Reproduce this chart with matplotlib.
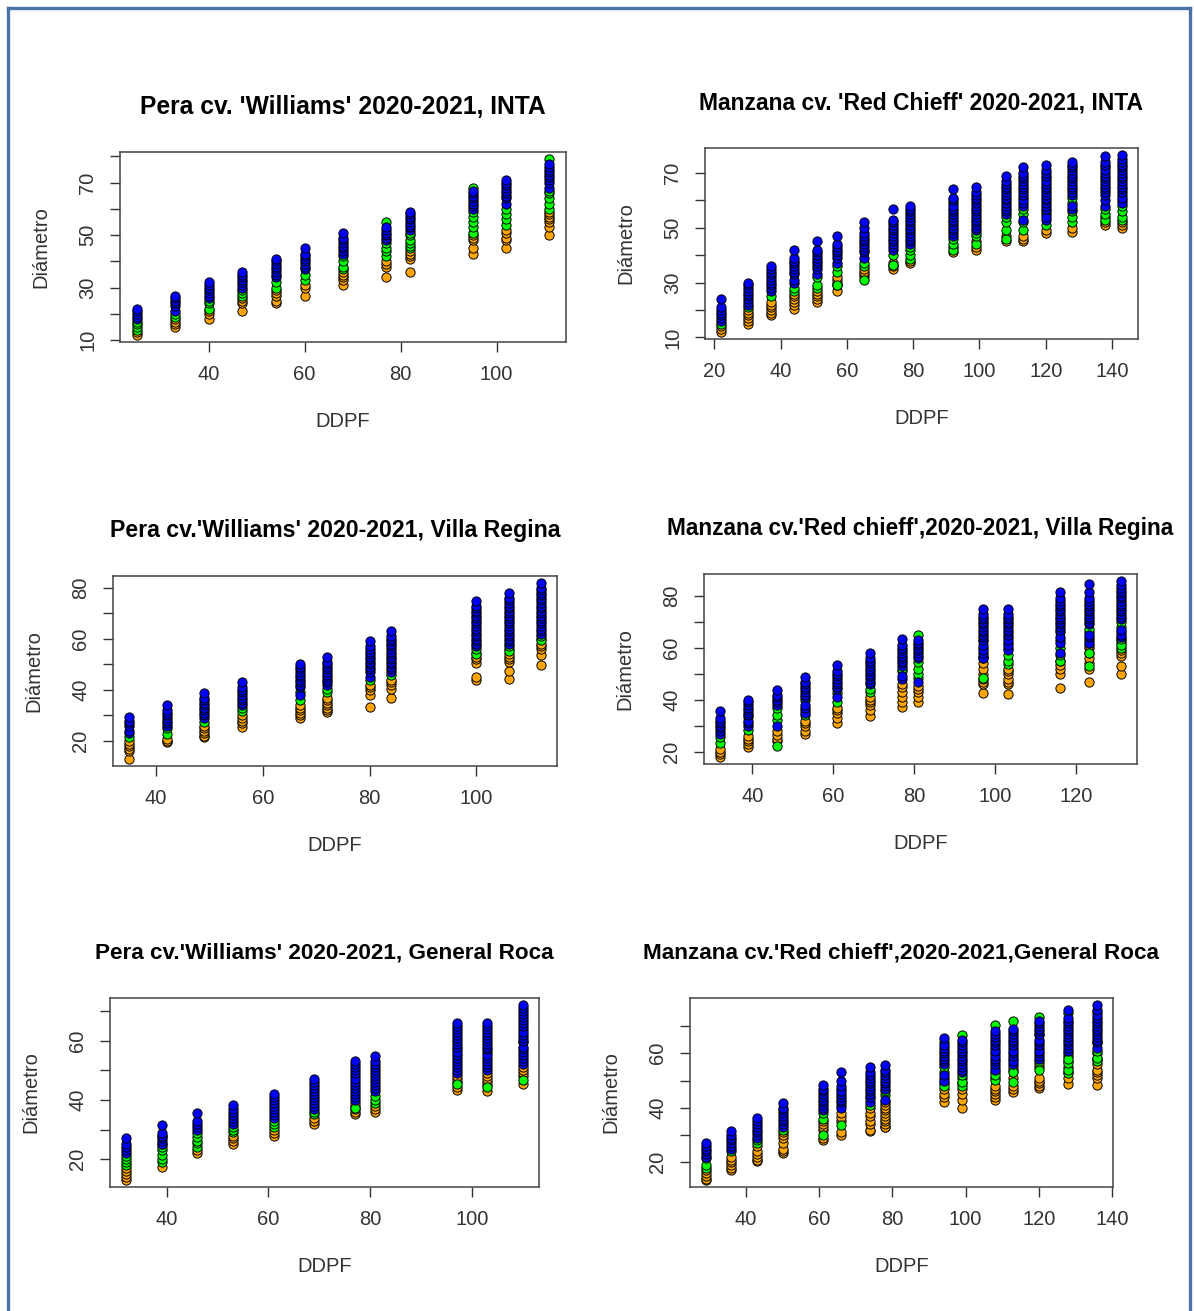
"""Six R-style scatter panels: fruit diameter vs DDPF for pear and apple, three sites."""
import matplotlib
matplotlib.use("Agg")
import matplotlib.pyplot as plt
from matplotlib.lines import Line2D

plt.rcParams['font.family'] = ['Liberation Sans', 'DejaVu Sans']

W, H = 1194, 1311
ORANGE, GREEN, BLUE = "#FFA500", "#00FF00", "#0000FF"

# ---- Pera cv. 'Williams', INTA
P1_DDPF = [25, 33, 40, 47, 54, 60, 68, 77, 82, 95, 102, 111]
P1_ORANGE = [[12, 13], [15, 16, 17, 18], [18, 20, 21], [21, 24, 25, 26],
             [24, 25, 27, 28, 29], [27, 30, 31], [31, 33, 34, 35, 36],
             [34, 38, 39, 40], [36, 41, 42, 43, 44], [43, 45, 48, 49, 50],
             [45, 48, 49, 51, 52], [50, 53, 55, 56, 57, 58, 59]]
P1_GREEN = [[14, 15, 16, 17], [19, 20], [22, 24, 25], [27, 28, 29], [30, 32],
            [33, 35], [37, 38, 40, 42], [42, 44, 45, 47, 55],
            [45, 46, 47, 48, 50, 51], [51, 53, 55, 57, 59, 68],
            [54, 56, 58, 60], [60, 62, 64, 66, 67, 79]]
P1_BLUE = [[18, 19, 20, 21, 22], [21, 23, 24, 25, 26, 27],
           [26, 27, 28, 29, 30, 31, 32], [30, 31, 32, 33, 34, 35, 36],
           [34, 35, 36, 37, 38, 39, 40, 41], [37, 38, 39, 40, 41, 42, 43, 45],
           [43, 44, 45, 46, 47, 48, 49, 51], [48, 49, 50, 51, 52, 53],
           [52, 53, 54, 55, 56, 57, 58, 59], [60, 61, 62, 63, 64, 65, 66, 67],
           [62, 64, 65, 66, 67, 68, 69, 70, 71],
           [68, 70, 71, 72, 73, 74, 75, 76, 77]]

# ---- Manzana cv. 'Red Chieff', INTA
P2_DDPF = [22, 30, 37, 44, 51, 57, 65, 74, 79, 92, 99, 108, 113, 120, 128, 138, 143]
P2_ORANGE = [[12, 13, 14], [15, 16, 17, 18, 19, 20], [18, 19, 20, 21, 22, 23],
             [20.5, 22, 23, 24, 25, 26], [23, 24, 25, 26, 27], [27, 29, 30, 31, 32],
             [32, 33, 34, 35], [35, 36, 37], [37, 38], [41, 43], [42, 43, 45],
             [45, 47], [45, 46, 47], [48, 49], [48.5, 50], [51, 52, 54], [50, 51, 52]]
P2_GREEN = [[15], [21], [25], [27, 28], [28, 29, 32], [29, 34, 36], [31, 36, 37],
            [36.5, 40], [38.5, 40, 42, 43], [42, 44, 46, 59], [44, 47, 48],
            [46, 49, 52, 54], [49, 52, 55, 57, 61], [51, 55, 56, 68],
            [52, 54, 56, 59, 61], [53, 55, 57, 72], [53, 54, 56, 58, 60, 62]]
P2_BLUE = [[16, 17, 18, 19, 20, 21, 24],
           [22, 23, 24, 25, 26, 27, 28, 29, 30],
           [27, 28, 29, 30, 31, 32, 33, 34, 35, 36],
           [30, 31, 33, 34, 35, 36, 37, 38, 39, 42],
           [33, 35, 36, 37, 38, 39, 40, 41, 42, 45],
           [37, 39, 40, 41, 42, 43, 44, 47],
           [39, 41, 42, 43, 44, 45, 46, 47, 48, 50, 52],
           [42, 43, 44, 45, 46, 47, 48, 49, 50, 51, 52, 53, 57],
           [44, 45, 46, 47, 48, 49, 50, 51, 52, 53, 54, 55, 56, 57, 58],
           [47, 48, 49, 50, 51, 52, 53, 54, 55, 56, 57, 58, 60, 61, 64],
           [49, 50, 51, 52, 53, 54, 55, 56, 57, 58, 59, 60, 61, 62, 63, 65],
           [55, 56, 57, 58, 59, 60, 61, 62, 63, 64, 65, 66, 67, 69],
           [53, 58, 59, 60, 62, 63, 64, 65, 66, 67, 68, 69, 70, 72],
           [53, 54, 57, 58, 59, 60, 61, 62, 63, 64, 65, 66, 67, 69, 70, 71, 73],
           [57, 58, 62, 63, 64, 65, 66, 67, 68, 69, 70, 71, 72, 73, 74],
           [58, 60, 62, 63, 64, 65, 66, 67, 68, 69, 70, 71, 73, 74, 76],
           [59, 61, 63, 64, 65, 66, 67, 68, 69, 70, 71, 72, 73, 74, 75, 76.5]]

# ---- Pera cv. 'Williams', Villa Regina
P3_DDPF = [35, 42, 49, 56, 67, 72, 80, 84, 100, 106, 112]
P3_ORANGE = [[13, 16, 17, 18, 19, 20], [19.5, 20, 21], [21.5, 22, 23, 24, 25, 26],
             [25.6, 27, 28, 29, 30], [29, 30, 31, 32, 33, 34],
             [31.5, 32, 33, 34, 35, 36, 37], [33.5, 38, 40, 41, 42],
             [36.7, 40.5, 42, 43, 44], [43.7, 45, 50.5, 52, 53, 54.5],
             [44.2, 47.5, 51, 52, 53, 54, 56], [49.9, 53.8, 56, 57, 58, 60]]
P3_GREEN = [[21.5], [22.7, 25], [27.3], [31.9, 33], [36, 39.3], [39.3, 40.5],
            [43.7], [45.9], [54, 56], [55.4, 57], [59.6, 61]]
P3_BLUE = [[23, 24, 26, 27, 28, 29.5],
           [26, 27, 28, 29, 30, 31, 32, 34],
           [29, 30, 31, 32, 33, 34, 35, 36, 37, 38.7],
           [34, 35, 36, 37, 38, 39, 40, 41, 43],
           [38, 41, 42, 43, 44, 45, 46, 47, 48, 49, 50],
           [42, 43, 44, 45, 46, 47, 48, 49, 50, 51, 53],
           [45, 47, 48, 49, 50, 51, 52, 53, 54, 55, 56, 57, 59],
           [47, 48, 49, 50, 51, 52, 53, 54, 55, 56, 57, 58, 59, 60, 61, 63],
           [57, 58, 59, 60, 61, 62, 63, 64, 65, 66, 67, 68, 69, 70, 71, 72, 73, 74.6],
           [58, 59, 60, 61, 62, 63, 64, 65, 66, 67, 68, 69, 70, 71, 72, 73, 74, 75, 76, 78],
           [62, 63, 64, 65, 66, 67, 68, 69, 70, 71, 72, 73, 74, 75, 76, 77, 78, 79, 80, 81.8]]

# ---- Manzana cv. 'Red chieff', Villa Regina
P4_DDPF = [32, 39, 46, 53, 61, 69, 77, 81, 97, 103, 116, 123, 131]
P4_ORANGE = [[18, 19, 20, 21], [22, 23, 24, 25, 26], [24, 25, 26.5, 28],
             [27, 28, 30, 31, 32], [31, 33, 35, 36, 37], [33.6, 36, 38, 39, 40, 41],
             [37.4, 39, 41, 43, 45, 46], [39.3, 41, 43, 44, 45.5],
             [42.5, 46, 47, 48, 50, 52, 54], [42.3, 46, 47, 48, 50, 51, 52],
             [44.4, 50, 52, 53.5, 55], [46.7, 52, 54, 56, 58, 60, 61],
             [50.1, 53, 57, 58, 59, 62, 63]]
P4_GREEN = [[23.2, 25.6], [28.3, 33.2], [22.2, 32.4, 34, 36.8], [34, 36, 40],
            [39, 42.5], [43, 44], [51, 52], [48.2, 50.1, 52, 54.6, 65],
            [48.2, 55.9, 57, 60, 62.5], [53.6, 55, 57.1, 60, 62, 64],
            [55, 57.4, 60, 63, 66], [53, 58.1, 63, 66, 67.3],
            [60, 61, 63.5, 66, 68, 70]]
P4_BLUE = [[27, 28, 29, 30, 31, 32, 33, 35.5],
           [30, 31, 32, 34, 35, 36, 37, 38, 39, 40],
           [30, 38, 39, 40, 41, 42, 43.8],
           [35, 37, 38, 41, 42, 43, 44, 45, 46, 47, 48.6],
           [41, 44, 45, 46, 47, 48, 49, 50, 51, 53.3],
           [46, 47, 48, 49, 50, 51, 52, 53, 54, 55, 56, 58],
           [48, 49, 53, 54, 55, 56, 57, 58, 59, 60, 61, 63.5],
           [47, 56, 57, 58, 59, 60, 61, 62, 63],
           [56, 58, 59, 61, 63, 64, 65, 66, 67, 68, 69, 70, 71, 72, 73, 75],
           [59, 61, 63, 65, 66, 67, 68, 69, 70, 71, 72, 73, 75],
           [58, 62, 64, 67, 68, 69, 70, 71, 72, 73, 74, 75, 76, 77, 78, 79, 81.5],
           [62, 64, 65, 69, 70, 71, 72, 73, 74, 75, 76, 77, 78, 79, 81.5, 84.4],
           [64, 65, 67, 71, 72, 73, 74, 75, 76, 77, 78, 79, 80, 81, 82, 83, 84, 85.7]]

# ---- Pera cv. 'Williams', General Roca
P5_DDPF = [32, 39, 46, 53, 61, 69, 77, 81, 97, 103, 110]
P5_ORANGE = [[13, 14, 15, 16, 17], [17.5], [22, 23], [25, 26, 27, 28], [28, 29, 30],
             [32, 33, 34], [35.2, 36, 37, 38, 39], [36, 37, 38],
             [43.5, 44.5, 46, 47, 48], [43, 45, 46, 47, 48, 49], [45.5, 48, 49, 50, 51]]
P5_GREEN = [[18, 19, 20, 21], [19, 20, 21.5, 23, 24, 25, 28], [24, 25.4, 26, 27.6, 29],
            [29.3, 30, 31], [31, 32, 33], [35.4, 36], [37.4, 47.9], [38.8, 40, 41.2],
            [45.2, 57.2], [44.3, 56], [46.6, 59.4, 64]]
P5_BLUE = [[22, 23, 24, 25, 27], [25, 26, 27, 28, 29, 31.7], [30, 31, 32, 33, 35.6],
           [32, 33, 34, 35, 36, 37, 38.4], [34, 35, 36, 37, 38, 39, 40, 41, 42],
           [37, 38, 39, 40, 41, 42, 43, 44, 45, 46, 47],
           [40, 41, 42, 43, 44, 45, 46, 47, 49, 50, 51, 52, 53],
           [43, 44, 45, 46, 47, 48, 49, 50, 51, 52, 53, 54.7],
           [49, 50, 51, 52, 53, 54, 55, 56, 58, 59, 60, 61, 62, 63, 64, 65, 66],
           [50, 51, 52, 53, 54, 55, 57, 58, 59, 60, 61, 62, 63, 64, 65, 66],
           [52, 53, 54, 55, 56, 57, 58, 60, 61, 62, 63, 65, 66, 67, 68, 69, 70, 71, 72]]

# ---- Manzana cv. 'Red chieff', General Roca
P6_DDPF = [29, 36, 43, 50, 61, 66, 74, 78, 94, 99, 108, 113, 120, 128, 136]
P6_ORANGE = [[13.5, 14, 15, 16, 17], [17.3, 18, 19, 20, 21, 22],
             [20.4, 21, 22, 23, 24, 26], [23.4, 24, 25, 27, 29, 30, 31],
             [28.3, 29, 32, 33, 34, 35], [30, 31, 35, 36.5, 38],
             [31.3, 32, 34, 35, 37, 38, 40],
             [32.8, 33, 34, 35, 36, 37, 38, 39, 40, 41, 42],
             [42.1, 44, 45, 47, 49, 51], [39.9, 43, 45, 47, 49, 51],
             [42.9, 44, 45, 46, 47, 48, 51, 53], [45.7, 47, 48, 51, 54, 55],
             [47.2, 48, 49, 50, 51, 55, 56], [48.7, 51, 53, 55, 57, 59, 60],
             [48.2, 51, 52, 53, 54, 56, 58, 60]]
P6_GREEN = [[18, 19.1, 21.6], [24.3], [27, 28.3], [32], [30.1, 36, 38],
            [33.8, 41.1, 47], [41, 43.5], [44.8, 46], [48, 53.3, 55, 64.3],
            [48, 49.6, 52, 66.7], [50.2, 52, 55, 60, 62, 70.4],
            [49.6, 53.3, 58, 62, 71.8], [53.9, 57, 62, 66.7, 73.4],
            [52.7, 54, 56.3, 58, 74.6], [57, 58.2, 61, 63.7, 75.2]]
P6_BLUE = [[22, 23, 24, 25, 26, 27], [25, 26, 27, 28, 29, 30, 31.6],
           [29, 30, 31, 32, 33, 34, 35, 36.2],
           [33, 34, 35, 36, 37, 38, 39, 40, 41.7],
           [39, 40, 41, 42, 43, 44, 45, 46, 47, 48.4],
           [40, 42, 43, 44, 45, 46, 48, 49.9, 53],
           [42, 44, 45, 46, 47, 48, 49, 50, 51, 52, 53, 54.8],
           [43, 47, 48, 49, 50, 51, 52, 53, 54, 55.7],
           [50, 52, 56, 57, 58, 59, 60, 61, 62, 63, 65.7],
           [53, 54, 55, 56, 57, 58, 59, 60, 61, 62, 63, 64, 65],
           [54, 56, 57, 58, 59, 61, 63, 64, 65, 66, 67, 68],
           [56, 57, 59, 60, 61, 63, 64, 65, 66, 67, 68, 69],
           [58, 59, 60, 61, 63, 64, 65, 67, 68, 69, 70, 71, 72],
           [61, 62, 63, 64, 65, 66, 67, 68, 69, 70, 71, 72, 73, 75.9],
           [62, 64, 65, 66, 67, 68, 69, 70, 71, 72, 73, 74, 76, 77.7]]

TITLES = ["Pera cv. 'Williams' 2020-2021, INTA",
          "Manzana cv. 'Red Chieff' 2020-2021, INTA",
          "Pera cv.'Williams' 2020-2021, Villa Regina",
          "Manzana cv.'Red chieff',2020-2021, Villa Regina",
          "Pera cv.'Williams' 2020-2021, General Roca",
          "Manzana cv.'Red chieff',2020-2021,General Roca"]
XTICKS = [[40, 60, 80, 100], [20, 40, 60, 80, 100, 120, 140], [40, 60, 80, 100],
          [40, 60, 80, 100, 120], [40, 60, 80, 100], [40, 60, 80, 100, 120, 140]]
YTICKS = [list(range(10, 81, 10)), list(range(10, 71, 10)), list(range(20, 81, 10)),
          list(range(20, 81, 10)), list(range(20, 71, 10)), list(range(20, 71, 10))]
YLABELED = [[10, 30, 50, 70], [10, 30, 50, 70], [20, 40, 60, 80],
            [20, 40, 60, 80], [20, 40, 60], [20, 40, 60]]

DATA = [(P1_DDPF, P1_ORANGE, P1_GREEN, P1_BLUE), (P2_DDPF, P2_ORANGE, P2_GREEN, P2_BLUE),
        (P3_DDPF, P3_ORANGE, P3_GREEN, P3_BLUE), (P4_DDPF, P4_ORANGE, P4_GREEN, P4_BLUE),
        (P5_DDPF, P5_ORANGE, P5_GREEN, P5_BLUE), (P6_DDPF, P6_ORANGE, P6_GREEN, P6_BLUE)]

# plot boxes in pixels: left, top, right, bottom
BOXES = [(120, 152, 566, 342), (705, 148, 1138, 339), (113, 576, 557, 766),
         (704, 574, 1137, 764), (110, 998, 539, 1187), (690, 998, 1113, 1187)]
# the panels were pasted at slightly different scales, so titles differ a bit
TITLE_SIZES = [17.7, 16.5, 16.7, 16.3, 16.2, 16.2]

TXT = "#333333"


def flatten(xs, groups):
    px = [x for x, g in zip(xs, groups) for _ in g]
    py = [v for g in groups for v in g]
    return px, py


def main() -> None:
    fig = plt.figure(figsize=(W / 100, H / 100), dpi=100)

    # outer frame (left, top, right)
    frame = dict(color="#4a74a8", linewidth=2.4, transform=fig.transFigure)
    fig.add_artist(Line2D([8 / W, 8 / W], [0, 1 - 8 / H], **frame))
    fig.add_artist(Line2D([8 / W, 1190 / W], [1 - 8 / H, 1 - 8 / H], **frame))
    fig.add_artist(Line2D([1190 / W, 1190 / W], [0, 1 - 8 / H], **frame))

    for i, (xs, org, grn, blu) in enumerate(DATA):
        l, t, r, b = BOXES[i]
        ax = fig.add_axes([l / W, 1 - b / H, (r - l) / W, (b - t) / H])
        for groups, col in ((org, ORANGE), (grn, GREEN), (blu, BLUE)):
            px, py = flatten(xs, groups)
            ax.scatter(px, py, s=44, c=col, edgecolors="black", linewidths=0.7, zorder=3)
        ax.margins(x=0.04, y=0.04)

        ax.set_xticks(XTICKS[i])
        ax.set_yticks(YTICKS[i])
        ax.set_yticklabels([str(v) if v in YLABELED[i] else "" for v in YTICKS[i]])
        ax.tick_params(direction="out", length=7.5, width=1, color=TXT,
                       labelsize=14.5, labelcolor=TXT, pad=9)
        ax.tick_params(axis="y", labelrotation=90)
        for lab in ax.get_yticklabels():
            lab.set_va("center")
        for sp in ax.spines.values():
            sp.set_color("#444444")
            sp.set_linewidth(1.1)

        ax.annotate(TITLES[i], xy=(0.5, 1), xycoords="axes fraction",
                    xytext=(0, 32.5), textcoords="offset points",
                    ha="center", va="center", fontsize=TITLE_SIZES[i],
                    fontweight="bold", color="black")
        ax.annotate("DDPF", xy=(0.5, 0), xycoords="axes fraction",
                    xytext=(0, -57), textcoords="offset points",
                    ha="center", va="center", fontsize=14.5, color=TXT)
        ax.annotate("Diámetro", xy=(0, 0.5), xycoords="axes fraction",
                    xytext=(-57, 0), textcoords="offset points", rotation=90,
                    ha="center", va="center", fontsize=14.5, color=TXT)

    fig.savefig("out.png", dpi=100, facecolor="white")
    plt.close(fig)


if __name__ == "__main__":
    main()
